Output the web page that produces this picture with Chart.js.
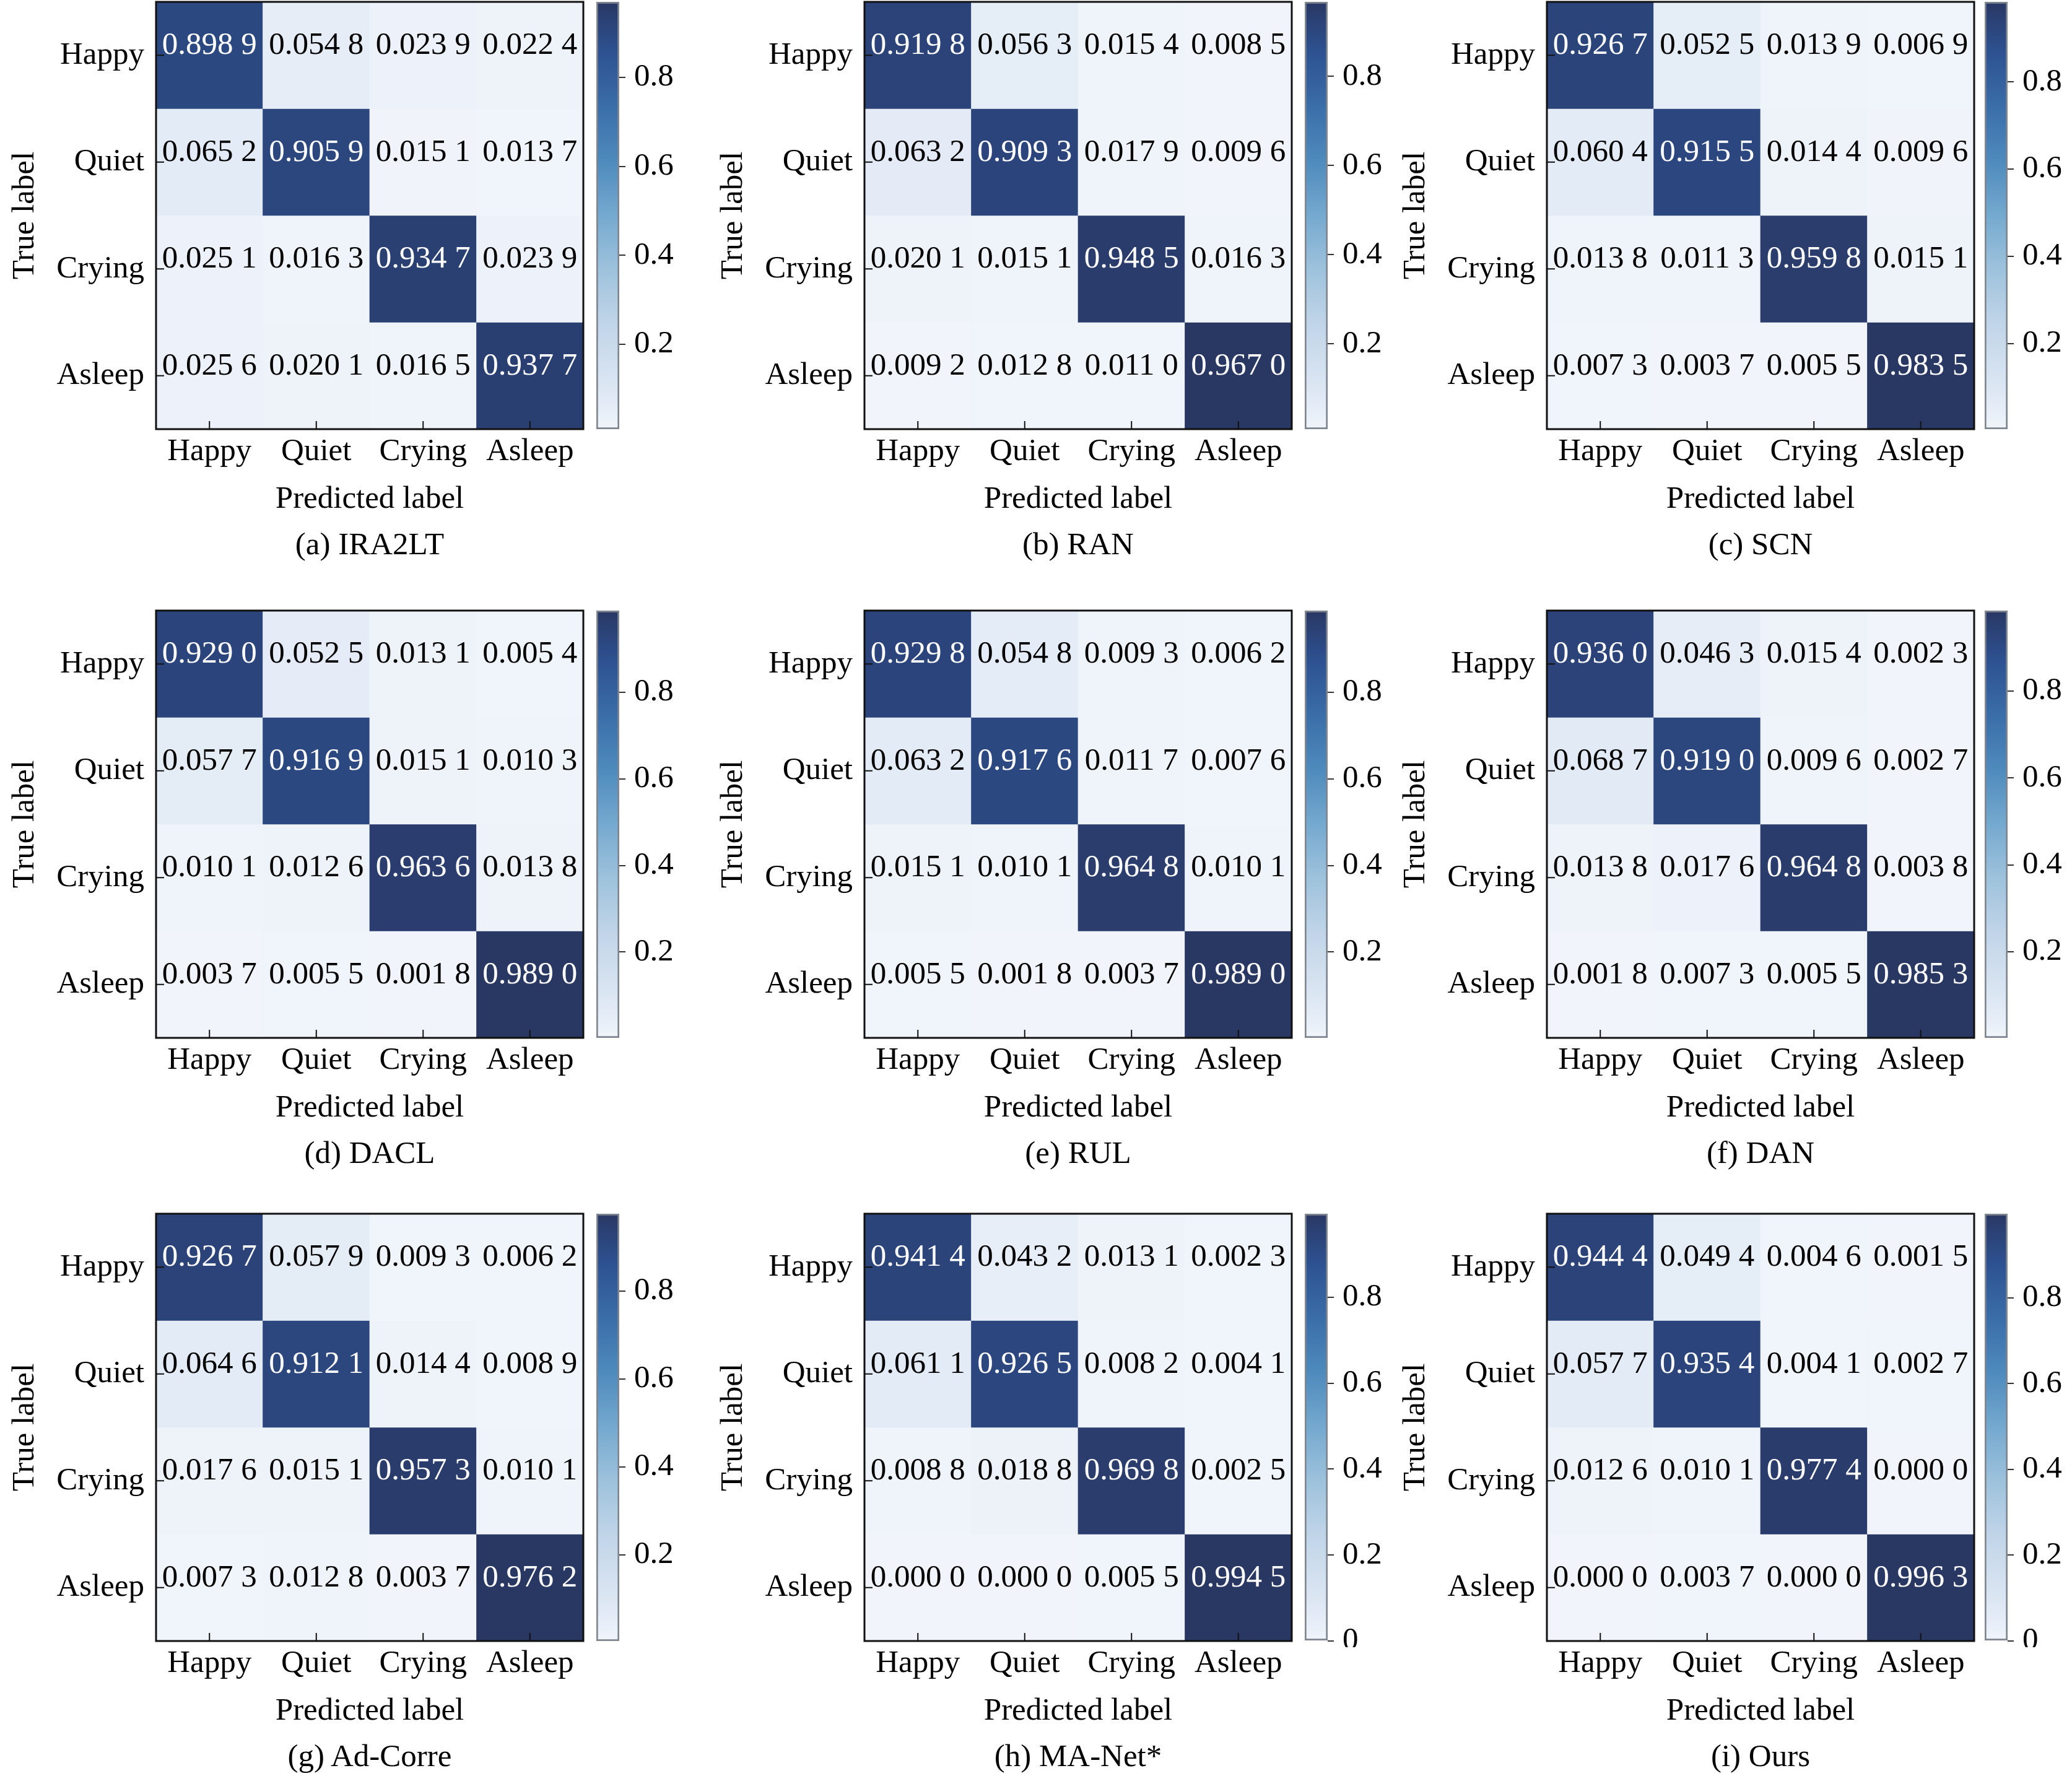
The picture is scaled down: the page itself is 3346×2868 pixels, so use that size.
<!DOCTYPE html>
<html>
<head>
<meta charset="utf-8">
<script src="https://cdn.jsdelivr.net/npm/chart.js"></script>
<style>
  html, body { margin: 0; padding: 0; background: #fff; }
  #page { position: relative; width: 3346px; height: 2868px; overflow: hidden;
          font-family: 'Liberation Serif', 'Times New Roman', serif; }
  #page canvas { position: absolute; }
  .caption { position: absolute; width: 690px; text-align: center; font-size: 51px;
             line-height: 51px; color: #000; white-space: nowrap; }
</style>
</head>
<body>
<div id="page"></div>
<script>
// ---- data ----
const predictedLabels = ['Happy', 'Quiet', 'Crying', 'Asleep'];
const trueLabels = ['Happy', 'Quiet', 'Crying', 'Asleep'];
const captions = ['(a) IRA2LT', '(b) RAN', '(c) SCN', '(d) DACL', '(e) RUL', '(f) DAN',
                  '(g) Ad-Corre', '(h) MA-Net*', '(i) Ours'];
const colorbarTicks = [0, 0.2, 0.4, 0.6, 0.8];
// colour-bar limits (null = min/max of the matrix)
const colorbarRange = [[0.009, 0.970], null, null, null, null, null, null, null, null];

const ira2lt = [
  [0.8989, 0.0548, 0.0239, 0.0224],
  [0.0652, 0.9059, 0.0151, 0.0137],
  [0.0251, 0.0163, 0.9347, 0.0239],
  [0.0256, 0.0201, 0.0165, 0.9377]
];
const ran = [
  [0.9198, 0.0563, 0.0154, 0.0085],
  [0.0632, 0.9093, 0.0179, 0.0096],
  [0.0201, 0.0151, 0.9485, 0.0163],
  [0.0092, 0.0128, 0.0110, 0.9670]
];
const scn = [
  [0.9267, 0.0525, 0.0139, 0.0069],
  [0.0604, 0.9155, 0.0144, 0.0096],
  [0.0138, 0.0113, 0.9598, 0.0151],
  [0.0073, 0.0037, 0.0055, 0.9835]
];
const dacl = [
  [0.9290, 0.0525, 0.0131, 0.0054],
  [0.0577, 0.9169, 0.0151, 0.0103],
  [0.0101, 0.0126, 0.9636, 0.0138],
  [0.0037, 0.0055, 0.0018, 0.9890]
];
const rul = [
  [0.9298, 0.0548, 0.0093, 0.0062],
  [0.0632, 0.9176, 0.0117, 0.0076],
  [0.0151, 0.0101, 0.9648, 0.0101],
  [0.0055, 0.0018, 0.0037, 0.9890]
];
const dan = [
  [0.9360, 0.0463, 0.0154, 0.0023],
  [0.0687, 0.9190, 0.0096, 0.0027],
  [0.0138, 0.0176, 0.9648, 0.0038],
  [0.0018, 0.0073, 0.0055, 0.9853]
];
const adCorre = [
  [0.9267, 0.0579, 0.0093, 0.0062],
  [0.0646, 0.9121, 0.0144, 0.0089],
  [0.0176, 0.0151, 0.9573, 0.0101],
  [0.0073, 0.0128, 0.0037, 0.9762]
];
const maNet = [
  [0.9414, 0.0432, 0.0131, 0.0023],
  [0.0611, 0.9265, 0.0082, 0.0041],
  [0.0088, 0.0188, 0.9698, 0.0025],
  [0.0000, 0.0000, 0.0055, 0.9945]
];
const ours = [
  [0.9444, 0.0494, 0.0046, 0.0015],
  [0.0577, 0.9354, 0.0041, 0.0027],
  [0.0126, 0.0101, 0.9774, 0.0000],
  [0.0000, 0.0037, 0.0000, 0.9963]
];
const matrices = [ira2lt, ran, scn, dacl, rul, dan, adCorre, maNet, ours];

// ---- layout (page pixels) ----
const colLeft = [252, 1396, 2498];
const barLeft = [963, 2107, 3205];
const rowTop = [3, 986, 1960];
const SIZE = 690;

// Blues-like colormap as it looks in the figure
const cmapStops = [
  [0.00, [241, 245, 251]],
  [0.06, [227, 235, 246]],
  [0.125, [215, 227, 241]],
  [0.25, [192, 212, 232]],
  [0.375, [157, 194, 220]],
  [0.50, [117, 169, 207]],
  [0.625, [79, 139, 189]],
  [0.75, [59, 111, 169]],
  [0.875, [46, 83, 147]],
  [0.95, [43, 67, 120]],
  [1.00, [41, 55, 99]]
];

function cmap(t) {
  t = Math.max(0, Math.min(1, t));
  for (let i = 1; i < cmapStops.length; i++) {
    const a = cmapStops[i - 1], b = cmapStops[i];
    if (t <= b[0]) {
      const f = (t - a[0]) / (b[0] - a[0]);
      const c = a[1].map((v, k) => Math.round(v + (b[1][k] - v) * f));
      return 'rgb(' + c.join(',') + ')';
    }
  }
  return 'rgb(' + cmapStops[cmapStops.length - 1][1].join(',') + ')';
}

function fmt(v) {
  const s = v.toFixed(4);
  return s.slice(0, 5) + ' ' + s.slice(5);
}

// keep the plot box exactly where the scales are told to be
function noOverflow(s) {
  s.paddingTop = 0; s.paddingBottom = 0;
  s.paddingLeft = 0; s.paddingRight = 0;
}

Chart.defaults.font.family = "'Liberation Serif', 'Times New Roman', serif";
Chart.defaults.font.size = 51;
Chart.defaults.color = '#000';

// numbers in the cells, frame and inward ticks
const cellText = {
  id: 'cellText',
  afterDatasetsDraw(chart, args, opts) {
    if (!opts.matrix) return;
    const ctx = chart.ctx;
    const thresh = (opts.vmin + opts.vmax) / 2;
    ctx.save();
    ctx.font = '51px ' + Chart.defaults.font.family;
    ctx.textAlign = 'center';
    ctx.textBaseline = 'alphabetic';
    chart.data.datasets.forEach((ds, r) => {
      chart.getDatasetMeta(r).data.forEach((el, c) => {
        const v = opts.matrix[r][c];
        ctx.fillStyle = v > thresh ? '#fff' : '#000';
        ctx.fillText(fmt(v), el.x, (el.y + el.base) / 2 - 2);
      });
    });
    const a = chart.chartArea;
    ctx.strokeStyle = '#111';
    ctx.lineWidth = 2;
    const xs = chart.scales.x, ys = chart.scales.y;
    xs.ticks.forEach((t, i) => {
      const px = xs.getPixelForTick(i);
      ctx.beginPath(); ctx.moveTo(px, a.bottom); ctx.lineTo(px, a.bottom - 13); ctx.stroke();
    });
    ys.ticks.forEach((t, i) => {
      const py = ys.getPixelForTick(i);
      ctx.beginPath(); ctx.moveTo(a.left, py); ctx.lineTo(a.left + 13, py); ctx.stroke();
    });
    ctx.lineWidth = 3;
    ctx.strokeRect(a.left, a.top, a.right - a.left, a.bottom - a.top);
    ctx.restore();
  }
};
Chart.register(cellText);

const page = document.getElementById('page');

function addCanvas(left, top, w, h) {
  const cv = document.createElement('canvas');
  cv.width = w; cv.height = h;
  cv.style.left = left + 'px'; cv.style.top = top + 'px';
  cv.style.width = w + 'px'; cv.style.height = h + 'px';
  page.appendChild(cv);
  return cv;
}

function drawMatrix(m, k) {
  const r = Math.floor(k / 3), c = k % 3;
  const flat = m.flat();
  const range = colorbarRange[k] || [Math.min(...flat), Math.max(...flat)];
  const vmin = range[0], vmax = range[1];
  const L = colLeft[c], T = rowTop[r];

  const datasets = m.map((row, i) => ({
    data: row.map((v, j) => ({ x: predictedLabels[j], y: [i, i + 1] })),
    backgroundColor: row.map(v => cmap((v - vmin) / (vmax - vmin))),
    borderWidth: 0,
    barPercentage: 1,
    categoryPercentage: 1,
    grouped: false
  }));

  new Chart(addCanvas(L - 252, T - 3, 252 + SIZE + 6, 3 + SIZE + 150), {
    type: 'bar',
    data: { labels: predictedLabels, datasets: datasets },
    options: {
      responsive: false,
      animation: false,
      devicePixelRatio: 1,
      layout: { padding: { left: 0, top: 3, right: 6, bottom: 0 } },
      plugins: {
        legend: { display: false },
        tooltip: { enabled: false },
        cellText: { matrix: m, vmin: Math.min(...flat), vmax: Math.max(...flat) }
      },
      scales: {
        x: {
          type: 'category',
          grid: { display: false, drawTicks: false },
          border: { display: false },
          ticks: { padding: 6, maxRotation: 0, autoSkip: false, color: '#000' },
          title: { display: true, text: 'Predicted label', color: '#000', padding: { top: 0, bottom: 6 } },
          afterFit(s) { s.height = 150; noOverflow(s); }
        },
        y: {
          type: 'linear',
          min: 0,
          max: 4,
          reverse: true,
          grid: { display: false, drawTicks: false },
          border: { display: false },
          afterBuildTicks(s) { s.ticks = trueLabels.map((_, i) => ({ value: i + 0.5 })); },
          ticks: { padding: 19, color: '#000', callback: v => trueLabels[Math.floor(v)] },
          title: { display: true, text: 'True label', color: '#000', padding: { top: 10, bottom: 0 } },
          afterFit(s) { s.width = 252; noOverflow(s); }
        }
      }
    }
  });

  // colour bar
  new Chart(addCanvas(barLeft[c] - 10, T - 3, 10 + 37 + 130, 3 + SIZE + 10), {
    type: 'bar',
    data: {
      labels: [''],
      datasets: [{
        data: [[vmin, vmax]],
        backgroundColor(ctx) {
          const a = ctx.chart.chartArea;
          if (!a) return cmap(0.5);
          const g = ctx.chart.ctx.createLinearGradient(0, a.bottom, 0, a.top);
          cmapStops.forEach(s => g.addColorStop(s[0], 'rgb(' + s[1].join(',') + ')'));
          return g;
        },
        borderColor: '#80868f',
        borderWidth: 3,
        borderSkipped: false,
        barPercentage: 1,
        categoryPercentage: 1
      }]
    },
    options: {
      responsive: false,
      animation: false,
      devicePixelRatio: 1,
      layout: { padding: { left: 10, top: 3, right: 0, bottom: 10 } },
      plugins: { legend: { display: false }, tooltip: { enabled: false } },
      scales: {
        x: { display: false },
        y: {
          position: 'right',
          min: vmin,
          max: vmax,
          grid: { drawOnChartArea: false, drawTicks: true, tickLength: 10, lineWidth: 2, color: '#333' },
          border: { display: false },
          afterBuildTicks(s) {
            s.ticks = colorbarTicks.filter(t => t >= vmin - 1e-9 && t <= vmax).map(t => ({ value: t }));
          },
          ticks: { padding: 14, color: '#000', callback: v => (v === 0 ? '0' : v.toFixed(1)) },
          afterFit(s) { s.width = 130; noOverflow(s); }
        }
      }
    }
  });

  const cap = document.createElement('div');
  cap.className = 'caption';
  cap.style.left = L + 'px';
  cap.style.top = (T + SIZE + 160) + 'px';
  cap.textContent = captions[k];
  page.appendChild(cap);
}

matrices.forEach((m, k) => drawMatrix(m, k));
</script>
</body>
</html>
